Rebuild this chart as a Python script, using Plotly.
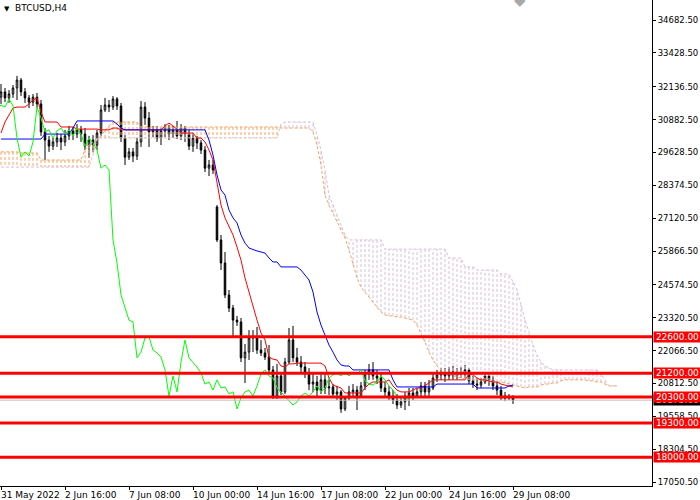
import plotly.graph_objects as go

# BTCUSD, H4 (weekday bars only), bar 0 = 31 May 2022 00:00
opens = [31740, 31940, 31710, 31860, 32090, 32390, 31940, 31710, 31550, 31740,
         31480, 30410, 30100, 29870, 30030, 30180, 30030, 30260, 30450, 30330,
         30490, 30330, 29870, 30100, 29910, 30370, 31250, 31440, 31360, 31670,
         31400, 30180, 29450, 29650, 29490, 30030, 31360, 30940, 30410, 30490,
         30180, 30450, 30560, 30330, 30490, 30260, 30560, 30330, 29870, 30180,
         29990, 29720, 29030, 29150, 27550, 26290, 25410, 24190, 23690, 23230,
         23160, 21790, 22010, 22550, 22590, 22090, 21980, 21820, 21330, 20330,
         21100, 20490, 21630, 22470, 21790, 21630, 21440, 21210, 20790, 20870,
         20560, 20950, 20640, 20680, 20410, 20490, 19840, 20260, 20490, 20560,
         20330, 20720, 21170, 21330, 21100, 21020, 20640, 20490, 20330, 20180,
         19990, 20110, 20330, 20450, 20330, 20490, 20720, 20490, 20640, 21020,
         21140, 21210, 21100, 21250, 21100, 21250, 21170, 21330, 20910, 20790,
         20750, 20870, 21100, 20950, 20720, 20560, 20330, 20260, 20300]
highs = [32240, 32090, 32010, 32200, 32550, 32470, 32090, 31820, 31860, 31900,
         31630, 30560, 30260, 30180, 30370, 30330, 30490, 30640, 30600, 30710,
         30640, 30560, 30260, 30290, 30490, 31440, 31710, 31630, 31780, 31740,
         31520, 30290, 29800, 29800, 30180, 31590, 31550, 31170, 30640, 30640,
         30560, 30710, 30680, 30640, 30830, 30710, 30640, 30490, 30330, 30260,
         30100, 29870, 29340, 29340, 27620, 26480, 25830, 24380, 23810, 23390,
         23310, 22320, 22850, 22850, 22970, 22470, 22170, 22280, 21480, 21560,
         21250, 21790, 22930, 23010, 22170, 21860, 21630, 21400, 21210, 21100,
         21170, 21170, 20950, 20790, 20720, 20560, 20330, 20720, 20790, 20720,
         20870, 21330, 21560, 21630, 21330, 21250, 20870, 20720, 20560, 20410,
         20330, 20490, 20640, 20640, 20640, 20870, 20870, 20950, 21250, 21330,
         21400, 21400, 21440, 21480, 21400, 21440, 21520, 21400, 21100, 21020,
         21020, 21250, 21250, 21100, 20870, 20720, 20490, 20410, 20370]
lows = [31480, 31550, 31520, 31710, 31630, 31780, 31520, 31320, 31400, 31320,
        30260, 29340, 29650, 29720, 29840, 29720, 29870, 30100, 30100, 30180,
        30030, 29720, 29420, 29650, 29720, 30260, 31170, 31170, 31250, 31250,
        30030, 29150, 29340, 29260, 29340, 29840, 30680, 29840, 30220, 30030,
        29910, 30220, 30100, 30180, 30140, 30100, 30030, 29720, 29650, 29760,
        29570, 28880, 28730, 28810, 26210, 25140, 24070, 23540, 22590, 23010,
        21630, 20830, 21710, 22010, 21940, 21860, 21710, 21250, 20220, 20220,
        20370, 20410, 21560, 21630, 21480, 21250, 21020, 20560, 20490, 20330,
        20410, 20410, 20370, 20260, 20180, 19690, 19760, 20180, 20260, 19800,
        20260, 20560, 20950, 20950, 20790, 20490, 20330, 20180, 20030, 19840,
        19880, 19800, 19950, 20180, 20260, 20330, 20260, 20330, 20560, 20870,
        20950, 20870, 20950, 20950, 20950, 21020, 21020, 20790, 20640, 20560,
        20640, 20790, 20720, 20560, 20370, 20180, 20140, 20180, 20030]
closes = [31940, 31710, 31860, 32090, 32390, 31940, 31710, 31550, 31740, 31480,
          30410, 30100, 29870, 30030, 30180, 30030, 30260, 30450, 30330, 30490,
          30330, 29870, 30100, 29910, 30370, 31250, 31440, 31360, 31670, 31400,
          30180, 29450, 29650, 29490, 30030, 31360, 30940, 30410, 30490, 30180,
          30450, 30560, 30330, 30490, 30260, 30560, 30330, 29870, 30180, 29990,
          29720, 29030, 29150, 28960, 26290, 25410, 24190, 23690, 23230, 23160,
          21790, 22010, 22550, 22590, 22090, 21980, 21820, 21330, 20330, 21100,
          20490, 21630, 22470, 21790, 21630, 21440, 21210, 20790, 20870, 20560,
          20950, 20640, 20680, 20410, 20490, 19840, 20260, 20490, 20560, 20330,
          20720, 21170, 21330, 21100, 21020, 20640, 20490, 20330, 20180, 19990,
          20110, 20330, 20450, 20330, 20490, 20720, 20490, 20640, 21020, 21140,
          21210, 21100, 21250, 21100, 21250, 21170, 21330, 20910, 20790, 20750,
          20870, 21100, 20950, 20720, 20560, 20330, 20260, 20300, 20180]

# Ichimoku (9, 26, 52) as drawn on the chart
tenkan = [30370, 30790, 31060, 31320, 31360, 31360, 31360, 31480, 31630, 31710,
          31170, 30790, 30790, 30790, 30790, 30600, 30600, 30600, 30600, 30520,
          30520, 30520, 30520, 30520, 30520, 30490, 30490, 30490, 30560, 30560,
          30490, 30490, 30490, 30490, 30490, 30490, 30490, 30490, 30490, 30490,
          30490, 30640, 30750, 30640, 30490, 30370, 30370, 30370, 30370, 30180,
          30180, 30030, 29720, 29340, 28390, 27620, 27130, 26780, 26480, 26020,
          25520, 24840, 24270, 23770, 23230, 22740, 22470, 21820, 21740, 21710,
          21480, 21440, 21560, 21560, 21590, 21590, 21590, 21590, 21590, 21590,
          21590, 21480, 21020, 20750, 20680, 20640, 20450, 20450, 20450, 20450,
          20450, 20640, 20790, 20870, 20870, 20870, 20870, 20950, 20720, 20560,
          20490, 20490, 20490, 20560, 20640, 20640, 20720, 20830, 20950, 20950,
          20950, 20950, 20950, 20950, 20950, 20950, 20950, 21170, 21140, 21020,
          20950, 20950, 20910, 20870, 20870, 20790, 20750, 20720, 20680]
kijun = [30140, 30140, 30140, 30140, 30140, 30140, 30140, 30140, 30140, 30140,
         30140, 30330, 30330, 30330, 30330, 30330, 30330, 30330, 30560, 30830,
         30830, 30830, 30830, 30830, 30830, 30830, 30830, 30830, 30830, 30710,
         30560, 30490, 30490, 30490, 30490, 30490, 30490, 30490, 30490, 30490,
         30490, 30490, 30490, 30490, 30490, 30490, 30490, 30490, 30490, 30490,
         30490, 30490, 30100, 29530, 28770, 28200, 28000, 27430, 27130, 26940,
         26480, 26170, 25980, 25910, 25870, 25830, 25790, 25600, 25450, 25450,
         25260, 25260, 25260, 25260, 25260, 25140, 24950, 24760, 24300, 23540,
         23040, 22660, 22280, 22010, 21710, 21520, 21480, 21480, 21330, 21330,
         21330, 21330, 21330, 21330, 21330, 21330, 21330, 21330, 20950, 20680,
         20680, 20680, 20680, 20680, 20680, 20680, 20680, 20680, 20680, 20790,
         20790, 20790, 20790, 20790, 20790, 20790, 20790, 20790, 20790, 20640,
         20640, 20640, 20640, 20640, 20640, 20640, 20640, 20720, 20750]
# Senkou spans, already shifted 26 bars ahead (runs to bar 154)
span_a = [29650, 29650, 29650, 29650, 29650, 29610, 29610, 29610, 29610, 29610,
          29340, 29340, 29340, 29340, 29340, 29340, 29340, 29340, 29340, 29340,
          29340, 29720, 29910, 29910, 30100, 30290, 30490, 30640, 30790, 30790,
          30790, 30790, 30790, 30790, 30790, 30600, 30600, 30600, 30600, 30600,
          30600, 30600, 30600, 30600, 30600, 30600, 30600, 30600, 30600, 30600,
          30600, 30600, 30600, 30600, 30600, 30600, 30600, 30600, 30600, 30600,
          30600, 30600, 30600, 30600, 30600, 30600, 30600, 30600, 30600, 30600,
          30560, 30560, 30560, 30560, 30560, 30560, 30560, 30560, 30410, 29910,
          29150, 28000, 27620, 27320, 26980, 26670, 26360, 25910, 25330, 24840,
          24490, 24300, 24110, 23880, 23690, 23540, 23430, 23390, 23390, 23350,
          23350, 23310, 23270, 23230, 23040, 22740, 22390, 22010, 21710, 21480,
          21330, 21250, 21170, 21100, 21060, 21020, 20980, 20950, 20950, 20950,
          20950, 20910, 20910, 20870, 20870, 20870, 20830, 20790, 20750, 20720,
          20680, 20640, 20680, 20680, 20680, 20750, 20790, 20790, 20830, 20830,
          20910, 20950, 20950, 20950, 20950, 20950, 20950, 20910, 20910, 20870,
          20870, 20790, 20720, 20720, 20720]
span_b = [29070, 29070, 29070, 29070, 29070, 29070, 29070, 29070, 29070, 29070,
          29070, 29070, 29070, 29070, 29070, 29070, 29070, 29070, 29070, 29070,
          29070, 29070, 29070, 29530, 30180, 30180, 30180, 30180, 30180, 30180,
          30180, 30180, 30180, 30180, 30180, 30180, 30180, 30180, 30180, 30180,
          30180, 30180, 30180, 30180, 30180, 30180, 30180, 30180, 30180, 30180,
          30180, 30180, 30180, 30180, 30180, 30180, 30180, 30180, 30180, 30180,
          30180, 30180, 30180, 30180, 30180, 30180, 30180, 30180, 30180, 30180,
          30710, 30790, 30790, 30790, 30790, 30790, 30790, 30790, 30790, 30290,
          29720, 28960, 28000, 27620, 27240, 26860, 26480, 26290, 26290, 26290,
          26290, 26290, 26290, 26290, 26290, 26290, 25940, 25940, 25940, 25940,
          25940, 25940, 25940, 25940, 25940, 25940, 25940, 25940, 25940, 25940,
          25940, 25940, 25600, 25600, 25600, 25600, 25260, 25260, 25260, 25140,
          25140, 25140, 25140, 25140, 25140, 24990, 24990, 24990, 24690, 24380,
          23810, 23230, 22780, 22280, 21900, 21630, 21480, 21400, 21330, 21330,
          21330, 21330, 21330, 21330, 21330, 21330, 21330, 21330, 21330, 21330,
          21170, 20950, 20720, 20720, 20720]

levels = [22600, 21200, 20300, 19300, 18000]
bid = 20175.00

y_ticks = [34682.5, 33428.5, 32136.5, 30882.5, 29628.5, 28374.5, 27120.5, 25866.5,
           24574.5, 23320.5, 22066.5, 20812.5, 19558.5, 18304.5, 17050.5]
x_tick_bars = [0, 16, 32, 48, 64, 80, 96, 112, 128]
x_tick_text = ['31 May 2022', '2 Jun 16:00', '7 Jun 08:00', '10 Jun 00:00', '14 Jun 16:00',
               '17 Jun 08:00', '22 Jun 00:00', '24 Jun 16:00', '29 Jun 08:00']

bars = list(range(len(closes)))
cloud_bars = list(range(len(span_a)))
chikou_x = [i - 26 for i in bars]

SANDY = '#F4A460'
THISTLE = '#D8BFD8'
DOTS = '3px,2px'

fig = go.Figure()

# cloud hatching: one vertical dotted stroke per bar
hatch = {SANDY: ([], []), THISTLE: ([], [])}
for i in cloud_bars:
    a, b = span_a[i], span_b[i]
    if a == b:
        continue
    col = SANDY if a > b else THISTLE
    hatch[col][0].extend([i, i, None])
    hatch[col][1].extend([a, b, None])
for col, (hx, hy) in hatch.items():
    fig.add_trace(go.Scatter(x=hx, y=hy, mode='lines', hoverinfo='skip',
                             line=dict(color=col, width=1, dash=DOTS)))

fig.add_trace(go.Scatter(x=cloud_bars, y=span_a, mode='lines', hoverinfo='skip',
                         line=dict(color=SANDY, width=1, dash=DOTS)))
fig.add_trace(go.Scatter(x=cloud_bars, y=span_b, mode='lines', hoverinfo='skip',
                         line=dict(color=THISTLE, width=1, dash=DOTS)))

fig.add_trace(go.Candlestick(
    x=bars, open=opens, high=highs, low=lows, close=closes,
    increasing=dict(line=dict(color='black', width=1), fillcolor='white'),
    decreasing=dict(line=dict(color='black', width=1), fillcolor='black'),
    whiskerwidth=0, hoverinfo='skip'))

fig.add_trace(go.Scatter(x=bars, y=tenkan, mode='lines', line=dict(color='#FF0000', width=1)))
fig.add_trace(go.Scatter(x=bars, y=kijun, mode='lines', line=dict(color='#0000FF', width=1)))
fig.add_trace(go.Scatter(x=chikou_x, y=closes, mode='lines', line=dict(color='#00FF00', width=1)))

shapes = [dict(type='line', xref='paper', x0=0, x1=1, yref='y', y0=bid, y1=bid,
               line=dict(color='#C0C0C0', width=1))]
for lv in levels:
    shapes.append(dict(type='line', xref='paper', x0=0, x1=1, yref='y', y0=lv, y1=lv,
                       line=dict(color='#FF0000', width=3)))

annotations = [dict(xref='paper', x=1, xanchor='left', yref='y', y=bid, text=f'{bid:.2f}',
                    showarrow=False, bgcolor='black', font=dict(color='white', size=9),
                    width=47, height=10, borderpad=0, xshift=1)]
for lv in levels:
    annotations.append(dict(xref='paper', x=1, xanchor='left', yref='y', y=lv,
                            text=f'{lv:.2f}', showarrow=False, bgcolor='#FF0000',
                            font=dict(color='white', size=9), width=47, height=10,
                            borderpad=0, xshift=1))
for b, t in zip(x_tick_bars, x_tick_text):
    annotations.append(dict(xref='x', x=b, xanchor='left', yref='paper', y=0, yanchor='top',
                            text=t, showarrow=False, yshift=-2, xshift=-2,
                            font=dict(size=9, color='black')))
annotations.append(dict(xref='paper', x=0, xanchor='left', yref='paper', y=1, yanchor='top',
                        text='▼', showarrow=False, xshift=2, yshift=-3,
                        font=dict(size=7, color='black')))
annotations.append(dict(xref='paper', x=0, xanchor='left', yref='paper', y=1, yanchor='top',
                        text='BTCUSD,H4', showarrow=False, xshift=13, yshift=-1,
                        font=dict(size=9, color='black')))
annotations.append(dict(xref='paper', x=0.797, xanchor='center', yref='paper', y=1,
                        yanchor='middle', text='◆', showarrow=False,
                        font=dict(size=15, color='#A8A8A8')))

fig.update_layout(
    width=700, height=500,
    margin=dict(l=0, r=48, t=0, b=14),
    paper_bgcolor='white', plot_bgcolor='white',
    showlegend=False, boxgap=0.45,
    font=dict(family='DejaVu Sans', size=9, color='black'),
    xaxis=dict(range=[-0.25, 162.75], showgrid=False, zeroline=False,
               showticklabels=False, rangeslider=dict(visible=False),
               showline=True, linecolor='black', linewidth=1,
               ticks='outside', tickvals=x_tick_bars, ticklen=3, tickcolor='black'),
    yaxis=dict(range=[16900, 35446], side='right', showgrid=False, zeroline=False,
               tickvals=y_ticks, ticktext=[f'{v:.2f}' for v in y_ticks],
               tickfont=dict(size=8.5),
               ticks='outside', ticklen=3, tickcolor='black',
               showline=True, linecolor='black', linewidth=1),
    shapes=shapes,
    annotations=annotations,
)

# the page body has a default 8px margin; drop it so the chart sits at the window corner
fig.write_html('out.html', config={'displayModeBar': False},
               post_script="document.body.style.margin='0';")
